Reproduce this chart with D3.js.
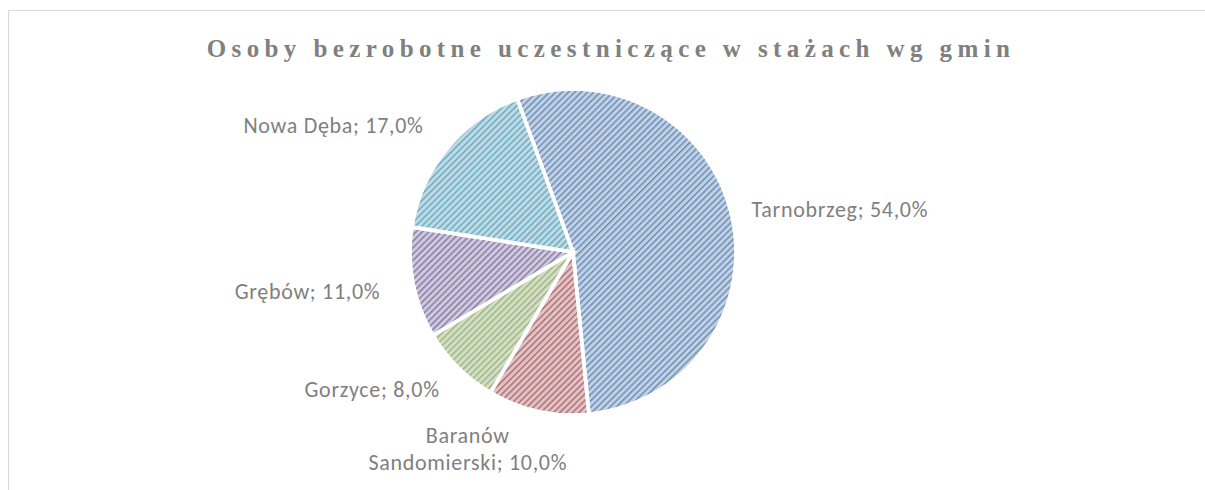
<!DOCTYPE html>
<html>
<head>
<meta charset="utf-8">
<script src="https://cdn.jsdelivr.net/npm/d3@7"></script>
<style>
  body { margin: 0; background: #fff; }
  svg { display: block; }
</style>
</head>
<body>
<div id="chart"></div>
<script>
var categories = ["Tarnobrzeg", "Baranów Sandomierski", "Gorzyce", "Grębów", "Nowa Dęba"];
var values = [54.0, 10.0, 8.0, 11.0, 17.0];
var labelLines = [["Tarnobrzeg; 54,0%"], ["Baranów", "Sandomierski; 10,0%"], ["Gorzyce; 8,0%"], ["Grębów; 11,0%"], ["Nowa Dęba; 17,0%"]];

var baseColors = ["#4f81bd", "#c0504d", "#9bbb59", "#8064a2", "#4bacc6"];
// label placement relative to point at radius r on slice mid angle
var labelLayout = [
    {r: 178, dx: 5, dy: 4, anchor: "start"},
    {r: 178, dx: -67, dy: 17, anchor: "middle"},
    {r: 178, dx: -8, dy: 19, anchor: "end"},
    {r: 178, dx: -18, dy: 13, anchor: "end"},
    {r: 178, dx: -12, dy: -6, anchor: "end"}
];

var W = 1205, H = 490;
var cx = 573, cy = 252, R = 163;

var svg = d3.select("#chart").append("svg")
    .attr("width", W).attr("height", H);

// frame
svg.append("path")
    .attr("d", "M8.5," + H + " V10.5 H" + W)
    .attr("fill", "none")
    .attr("stroke", "#d9d9d9")
    .attr("stroke-width", 1);

svg.append("text")
    .attr("x", 611)
    .attr("y", 57)
    .attr("text-anchor", "middle")
    .style("font-family", "'Liberation Serif', 'Times New Roman', serif")
    .style("font-weight", "bold")
    .style("font-size", "25px")
    .style("letter-spacing", "5.4px")
    .style("fill", "#808080")
    .text("Osoby bezrobotne uczestniczące w stażach wg gmin");

var defs = svg.append("defs");
baseColors.forEach(function(c, i) {
    var light = d3.interpolateRgb(c, "#ffffff")(0.76);
    var pat = defs.append("pattern")
        .attr("id", "pat" + i)
        .attr("patternUnits", "userSpaceOnUse")
        .attr("width", 4.5).attr("height", 4.5)
        .attr("patternTransform", "rotate(-45)");
    pat.append("rect").attr("width", 4.5).attr("height", 4.5).attr("fill", light);
    pat.append("rect").attr("x", 0).attr("y", 0).attr("width", 4.5).attr("height", 1.4)
        .attr("fill", d3.interpolateRgb(c, "#ffffff")(0.15));
});

var shade = defs.append("radialGradient")
    .attr("id", "shade")
    .attr("gradientUnits", "userSpaceOnUse")
    .attr("cx", cx).attr("cy", cy).attr("r", R);
shade.append("stop").attr("offset", "0.92").attr("stop-color", "#000").attr("stop-opacity", 0);
shade.append("stop").attr("offset", "1").attr("stop-color", "#1f3a60").attr("stop-opacity", 0.1);

var pie = d3.pie().sort(null)
    .startAngle(-20 * Math.PI / 180)
    .endAngle(340 * Math.PI / 180)
    .value(function(d) { return d; });

var arcs = pie(values);
var arc = d3.arc().innerRadius(0).outerRadius(R);

var g = svg.append("g").attr("transform", "translate(" + cx + "," + cy + ")");

g.selectAll(".slice")
    .data(arcs)
    .enter().append("path")
    .attr("class", "slice")
    .attr("d", arc)
    .attr("fill", function(d, i) { return "url(#pat" + i + ")"; })
    .attr("stroke", "#fff")
    .attr("stroke-width", 3.5)
    .attr("stroke-linejoin", "round");

svg.append("g").selectAll(".shade")
    .data(arcs)
    .enter().append("path")
    .attr("class", "shade")
    .attr("transform", "translate(" + cx + "," + cy + ")")
    .attr("d", arc)
    .attr("fill", "url(#shade)")
    .attr("stroke", "#fff")
    .attr("stroke-width", 3.5);

var labels = svg.append("g")
    .attr("transform", "translate(" + cx + "," + cy + ")")
    .selectAll(".label")
    .data(arcs)
    .enter().append("text")
    .attr("class", "label")
    .attr("text-anchor", function(d, i) { return labelLayout[i].anchor; })
    .attr("transform", function(d, i) {
        var a = (d.startAngle + d.endAngle) / 2;
        var L = labelLayout[i];
        var x = Math.sin(a) * L.r + L.dx;
        var y = -Math.cos(a) * L.r + L.dy;
        return "translate(" + x + "," + y + ")";
    })
    .style("font-family", "Carlito, Calibri, Lato, sans-serif")
    .style("font-size", "22px")
    .style("letter-spacing", "0.7px")
    .style("fill", "#7f7f7f");

labels.each(function(d, i) {
    var t = d3.select(this);
    labelLines[i].forEach(function(s, k) {
        t.append("tspan")
            .attr("x", 0)
            .attr("dy", k === 0 ? 0 : 27)
            .text(s);
    });
});
</script>
</body>
</html>
